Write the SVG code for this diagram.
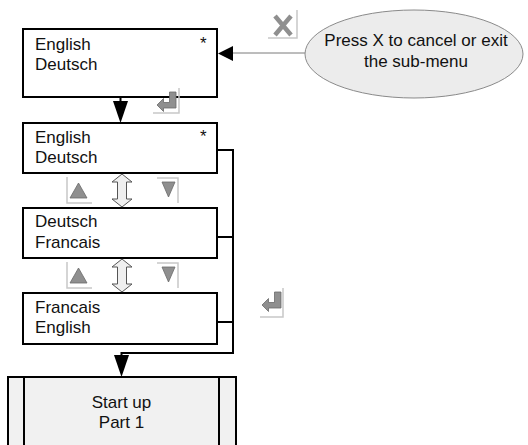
<svg xmlns="http://www.w3.org/2000/svg" width="528" height="445" viewBox="0 0 528 445">
<style>
  .box { fill: #ffffff; stroke: #000000; stroke-width: 2; }
  .txt { font-family: "Liberation Sans", Arial, sans-serif; font-size: 17px; fill: #111111; }
  .ctr { text-anchor: middle; }
  .conn { fill: none; stroke: #000000; stroke-width: 2; }
  .thin { fill: none; stroke: #7a7a7a; stroke-width: 1; }
  .head { fill: #000000; stroke: none; }
  .keyedge { stroke: #c8c8c8; stroke-width: 1.5; fill: none; }
  .keyglyph { fill: #8f8f8f; stroke: #6a6a6a; stroke-width: 0.8; }
  .dbl { fill: #efefef; stroke: #555555; stroke-width: 1; }
</style>
<defs>
  <path id="enterGlyph" d="M19,0 L12.5,0 L12.5,10.5 L6.5,10.5 L6.5,6.5 L0,13 L6.5,19.5 L6.5,16 L19,16 Z"/>
  <path id="dblArrow" d="M0,0 L10,8 L4.5,8 L4.5,25 L10,25 L0,33 L-10,25 L-4.5,25 L-4.5,8 L-10,8 Z"/>
  <g id="upKey">
    <path class="keyedge" d="M0,0 V26 H25"/>
    <polygon class="keyglyph" points="3,21 11.5,6 20,21"/>
  </g>
  <g id="downKey">
    <path class="keyedge" d="M0,0 H21 V25"/>
    <polygon class="keyglyph" points="5,4 18,4 11.5,19"/>
  </g>
</defs>

<g id="connectors">
  <path class="thin" d="M305,53 H230"/>
  <polygon class="head" points="218,53.5 233,46 233,61"/>
  <path class="conn" d="M120.5,97 V104"/>
  <polygon class="head" points="120.5,123 113,101 128,101"/>
  <path class="conn" d="M217,150 H233 M217,237 H233 M217,322 H233 M233,149 V353 H121.5 V358"/>
  <polygon class="head" points="121.5,377 114,355 129,355"/>
</g>

<g id="node-lang1">
  <rect class="box" x="23" y="29" width="194" height="68"/>
  <text class="txt" x="35" y="50">English</text>
  <text class="txt" x="35" y="70">Deutsch</text>
  <text class="txt" x="200" y="49">*</text>
</g>

<g id="node-lang2">
  <rect class="box" x="23" y="123" width="194" height="50"/>
  <text class="txt" x="35" y="143">English</text>
  <text class="txt" x="35" y="163">Deutsch</text>
  <text class="txt" x="200" y="142">*</text>
</g>

<g id="node-lang3">
  <rect class="box" x="23" y="208" width="194" height="50"/>
  <text class="txt" x="35" y="227">Deutsch</text>
  <text class="txt" x="35" y="248">Francais</text>
</g>

<g id="node-lang4">
  <rect class="box" x="23" y="293" width="194" height="51"/>
  <text class="txt" x="35" y="313">Francais</text>
  <text class="txt" x="35" y="333">English</text>
</g>

<g id="node-startup">
  <rect x="8" y="377" width="228" height="90" fill="#f1f1f1" stroke="#000000" stroke-width="2"/>
  <line x1="24" y1="377" x2="24" y2="467" stroke="#000000" stroke-width="2"/>
  <line x1="219" y1="377" x2="219" y2="467" stroke="#000000" stroke-width="2"/>
  <text class="txt ctr" x="121.5" y="408">Start up</text>
  <text class="txt ctr" x="121.5" y="428">Part 1</text>
</g>

<g id="node-note">
  <ellipse cx="414" cy="54" rx="109" ry="44" fill="#ececec" stroke="#8a8a8a" stroke-width="1"/>
  <text class="txt ctr" x="416" y="46">Press X to cancel or exit</text>
  <text class="txt ctr" x="416" y="67">the sub-menu</text>
</g>

<g id="key-cancel">
  <path class="keyedge" d="M297,10 V38 H268"/>
  <path d="M275,16 L291,35 M291,16 L275,35" stroke="#8f8f8f" stroke-width="4.5" fill="none"/>
</g>

<g id="key-enter1">
  <path class="keyedge" d="M179,88 V113 H153"/>
  <use href="#enterGlyph" class="keyglyph" x="157" y="92"/>
</g>

<g id="key-enter2">
  <path class="keyedge" d="M283,288 V317 H260"/>
  <use href="#enterGlyph" class="keyglyph" x="262" y="292"/>
</g>

<g id="keys-nav1">
  <use href="#upKey" x="67" y="177"/>
  <use href="#dblArrow" class="dbl" x="122" y="174"/>
  <use href="#downKey" x="157" y="178"/>
</g>

<g id="keys-nav2">
  <use href="#upKey" x="67" y="262"/>
  <use href="#dblArrow" class="dbl" x="122" y="259"/>
  <use href="#downKey" x="157" y="263"/>
</g>
</svg>
